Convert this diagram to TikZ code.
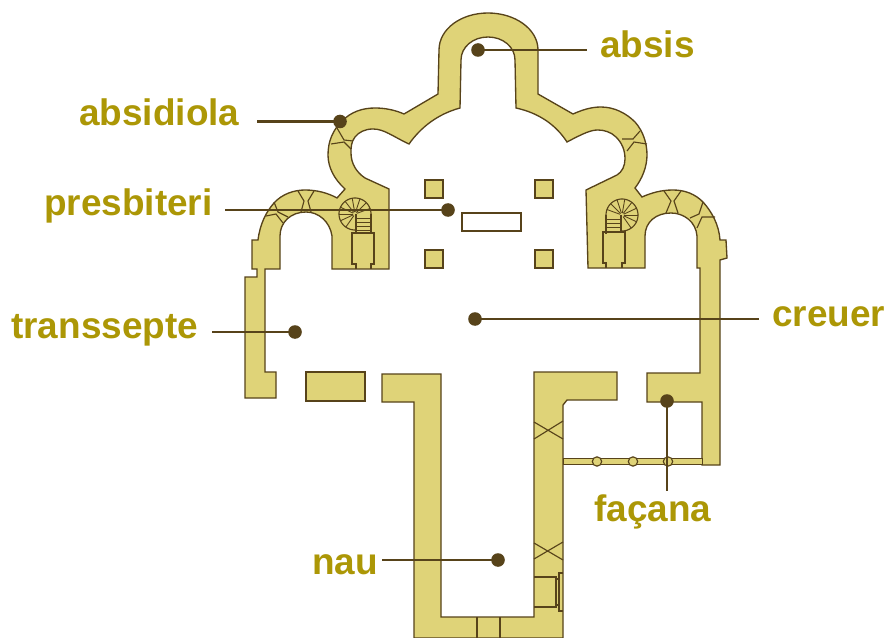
\documentclass[tikz,border=0pt]{standalone}
\usepackage{fontspec}
\setmainfont{Liberation Sans}
\definecolor{wallfill}{HTML}{DFD378}
\definecolor{wallline}{HTML}{57431A}
\definecolor{labelcol}{HTML}{AC9706}
\tikzset{
  wall/.style={draw=wallline,fill=wallfill,line width=1pt,line join=miter},
  rib/.style={draw=wallline,line width=0.85pt},
  fine/.style={draw=wallline,line width=0.65pt},
  leader/.style={draw=wallline,line width=1.9pt},
  dotmark/.style={circle,fill=wallline,inner sep=0pt,minimum size=10.2pt},
  lab/.style={anchor=base west,inner sep=0pt,text=labelcol,font=\fontsize{27.7}{30}\selectfont\bfseries},
  roundel/.style={circle,draw=wallline,fill=wallfill,line width=0.85pt,inner sep=0pt,minimum size=7pt}
}
\newcommand{\spiralstair}[3]{% cx, cy, sign
  \draw[rib] plot[domain=90:360,samples=50] ({#1+#3*16*cos(\x)},{#2+16*sin(\x)});
  \foreach \a in {125,155,180,205,232,260,288,315,340}
    \draw[fine] ({#1+#3*2*cos(\a)},{#2+2*sin(\a)}) -- ({#1+#3*16*cos(\a)},{#2+16*sin(\a)});
  \draw[rib] ({#1+#3*16},#2) -- ({#1+#3*16},#2+19);
  \draw[rib] ({#1+#3*1},#2) -- ({#1+#3*1},#2+18);
  \foreach \s in {4,8,12,16}
    \draw[fine] ({#1+#3*1},#2+\s) -- ({#1+#3*16},#2+\s);
}
\begin{document}
\begin{tikzpicture}[x=0.75pt,y=-0.75pt]
\useasboundingbox (0,0) rectangle (889,638);
\fill[white] (0,0) rectangle (889,638);

% upper ring with apse, transept walls
\path[wall] (245,398) -- (245,277) -- (257,277) -- (257,269) -- (252,269) -- (252,240) -- (258,240)
  .. controls (260,224) and (266,212) .. (274,203)
  .. controls (282,194) and (294,190) .. (305,190)
  .. controls (317,190) and (328,193) .. (337,198)
  -- (345,189)
  .. controls (334,179) and (328,167) .. (328,155)
  .. controls (328,141) and (333,130) .. (342,121)
  .. controls (351,112) and (362,108) .. (375,108)
  .. controls (385,108) and (395,110) .. (404,114)
  -- (438,94) -- (439,50)
  .. controls (439,29) and (461,13) .. (488,13)
  .. controls (515,13) and (538,29) .. (538,50)
  -- (538,94) -- (573,114)
  .. controls (582,110) and (591,107) .. (601,107)
  .. controls (614,107) and (626,113) .. (635,122)
  .. controls (643,131) and (647,143) .. (647,155)
  .. controls (647,167) and (642,179) .. (635,188)
  -- (642,197)
  .. controls (651,193) and (661,190) .. (673,190)
  .. controls (685,190) and (695,194) .. (703,202)
  .. controls (712,212) and (719,225) .. (720,240)
  -- (726,240) -- (727,258) -- (720,260) -- (720,465) -- (702,465) -- (702,402) -- (647,402)
  -- (647,373) -- (700,373) -- (700,268) -- (697,268) -- (697,236)
  .. controls (696,222) and (684,213) .. (671,213)
  .. controls (656,213) and (645,222) .. (645,236)
  -- (645,268) -- (588,268) -- (586,190) -- (617,175)
  .. controls (622,172) and (625,166) .. (625,159)
  .. controls (625,150) and (622,143) .. (616,137)
  .. controls (611,132) and (604,130) .. (598,130)
  .. controls (591,130) and (584,133) .. (567,142)
  .. controls (556,125) and (539,113) .. (516,108)
  -- (515,60)
  .. controls (515,47) and (503,37) .. (488,37)
  .. controls (473,37) and (461,47) .. (461,60)
  -- (460,108)
  .. controls (438,114) and (421,127) .. (409,144)
  .. controls (392,136) and (384,129) .. (373,129)
  .. controls (365,129) and (359,132) .. (355,137)
  .. controls (351,142) and (351,148) .. (351,153)
  .. controls (351,163) and (356,172) .. (365,178)
  -- (389,189) -- (389,269) -- (332,269) -- (332,236)
  .. controls (330,222) and (319,212) .. (306,212)
  .. controls (291,212) and (280,222) .. (280,236)
  -- (280,269) -- (265,269) -- (265,372) -- (276,372) -- (276,398) -- cycle;

% nave
\path[wall] (382,374) -- (441,374) -- (441,617) -- (534,617) -- (534,372) -- (617,372) -- (617,400)
  -- (567,400) -- (563,405) -- (563,638) -- (414,638) -- (414,402) -- (382,402) -- cycle;
% free block
\path[wall] (306,372) rectangle (365,401);
% piers
\path[wall] (425,180) rectangle (443,198);
\path[wall] (535,180) rectangle (553,198);
\path[wall] (425,250) rectangle (443,268);
\path[wall] (535,250) rectangle (553,268);
% altar
\draw[draw=wallline,fill=white,line width=2.1pt] (462,213) rectangle (521,231);

% facade strip
\path[wall,line width=0.75pt] (563,458.5) rectangle (702,464.5);
\node[roundel] (r1) at (597,461.5) {};
\node[roundel] (r2) at (633,461.5) {};
\node[roundel] (r3) at (668,461.5) {};

% ribs
\draw[rib] (298,191) -- (304,201) -- (301,212) (314,191) -- (308,201) -- (311,212);
\draw[rib] (274,202) -- (278,212) -- (288,217) (266,216) -- (276,214) -- (283,223);
\draw[rib] (337,128) -- (344,140) -- (353,141) (331,144) -- (344,142) -- (351,149);
\draw[rib] (640,131) -- (633,139) -- (622,139) (647,144) -- (634,142) -- (627,151);
\draw[rib] (664,191) -- (671,201) -- (666,213) (681,191) -- (674,201) -- (678,213);
\draw[rib] (703,202) -- (699,214) -- (690,218) (715,217) -- (702,217) -- (697,228);

% stairs
\spiralstair{355}{214}{1}
\spiralstair{622}{215}{-1}
\draw[rib] (356,269) -- (356,264) -- (352,264) -- (352,233) -- (374,233) -- (374,264) -- (371,264) -- (371,269);
\draw[rib] (606,268) -- (606,263) -- (603,263) -- (603,232) -- (625,232) -- (625,263) -- (622,263) -- (622,268);

% X marks
\draw[rib] (534,422) -- (563,439) (563,421) -- (534,439);
\draw[rib] (534,543) -- (563,560) (563,542) -- (534,559);

% nave details
\draw[rib] (534,577) -- (556,577) -- (556,607) -- (534,607);
\draw[rib] (556,579) -- (559,579) -- (559,605) -- (556,605);
\draw[rib] (563,573) -- (559,573) -- (559,611) -- (563,611);
\draw[rib] (477,617) -- (477,638) (500,617) -- (500,638);

% labels
\node[lab] (tabsis) at (600,58) {absis};
\node[lab] (tabsidiola) at (79,126) {absidiola};
\node[lab] (tpresb) at (44,216) {presbiteri};
\node[lab] (ttrans) at (11,338) {transsepte};
\node[lab] (tcreuer) at (772,326) {creuer};
\node[lab] (tfacana) at (594,521) {façana};
\node[lab] (tnau) at (312,574) {nau};

% leaders
\coordinate (eabsis) at (587,50);
\coordinate (eabsidiola) at (257,121.5);
\coordinate (epresb) at (225,210);
\coordinate (etrans) at (212,332);
\coordinate (ecreuer) at (759,319);
\coordinate (efacana) at (667,491);
\coordinate (enau) at (382,560);
\node[dotmark] (dabsis) at (478,50) {};
\node[dotmark] (dabsidiola) at (340,121.5) {};
\node[dotmark] (dpresb) at (448,210) {};
\node[dotmark] (dtrans) at (295,332) {};
\node[dotmark] (dcreuer) at (475,319) {};
\node[dotmark] (dfacana) at (667,401) {};
\node[dotmark] (dnau) at (498,560) {};
\draw[leader] (dabsis.center) -- (eabsis);
\draw[leader] (dabsidiola.center) -- (eabsidiola);
\draw[leader] (dpresb.center) -- (epresb);
\draw[leader] (dtrans.center) -- (etrans);
\draw[leader] (dcreuer.center) -- (ecreuer);
\draw[leader] (dfacana.center) -- (efacana);
\draw[leader] (dnau.center) -- (enau);
\end{tikzpicture}
\end{document}
